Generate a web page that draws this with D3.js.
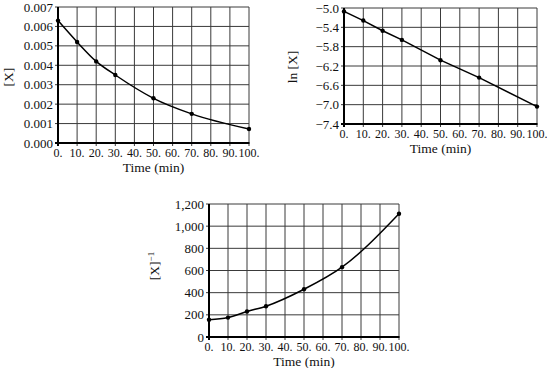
<!DOCTYPE html>
<html><head><meta charset="utf-8">
<script src="https://cdn.jsdelivr.net/npm/d3@7"></script>
<style>body{margin:0;background:#fff}svg{display:block}
text{font-family:"Liberation Serif","Times New Roman",Times,serif;fill:#111}</style>
</head><body><svg id="c" width="547" height="368"></svg>
<script>
const times = [0, 10, 20, 30, 50, 70, 100];
const conc = [0.0063, 0.0052, 0.0042, 0.0035, 0.0023, 0.0015, 0.00072];
const lnConc = [-5.07, -5.26, -5.47, -5.66, -6.08, -6.44, -7.04];
const invConc = [155, 175, 230, 278, 431, 630, 1112];
const xTicks = [0, 10, 20, 30, 40, 50, 60, 70, 80, 90, 100];
const yTicks1 = [0, 0.001, 0.002, 0.003, 0.004, 0.005, 0.006, 0.007];
const yTicks2 = [-7.4, -7.0, -6.6, -6.2, -5.8, -5.4, -5.0];
const yTicks3 = [0, 200, 400, 600, 800, 1000, 1200];

const svg = d3.select("#c");

function panel(o) {
  const x = d3.scaleLinear().domain([0, 100]).range([o.x0, o.x1]);
  const y = d3.scaleLinear().domain(o.yDomain).range([o.y1, o.y0]);
  const g = svg.append("g");
  // grid
  g.append("g").selectAll("line").data(xTicks.slice(1)).join("line")
    .attr("x1", d => x(d)).attr("x2", d => x(d))
    .attr("y1", o.y0).attr("y2", o.y1 + 3)
    .attr("stroke", "#3a3a3a").attr("stroke-width", 1);
  g.append("g").selectAll("line").data(o.yTicks.slice(1)).join("line")
    .attr("x1", o.x0 - 3).attr("x2", o.x1)
    .attr("y1", d => y(d)).attr("y2", d => y(d))
    .attr("stroke", "#3a3a3a").attr("stroke-width", 1);
  // axes
  g.append("line").attr("x1", o.x0).attr("x2", o.x0).attr("y1", o.y0).attr("y2", o.y1 + 3)
    .attr("stroke", "#000").attr("stroke-width", 2);
  g.append("line").attr("x1", o.x0 - 3).attr("x2", o.x1 + 0.5).attr("y1", o.y1).attr("y2", o.y1)
    .attr("stroke", "#000").attr("stroke-width", 2);
  // tick labels
  g.append("g").selectAll("text").data(xTicks).join("text")
    .attr("x", d => x(d)).attr("y", o.y1 + 14)
    .attr("text-anchor", "middle").attr("font-size", 12)
    .text(d => d + ".");
  g.append("g").selectAll("text").data(o.yTicks).join("text")
    .attr("x", o.x0 - 5).attr("y", d => y(d) + 4.5)
    .attr("text-anchor", "end").attr("font-size", 13)
    .text(o.fmt);
  // titles
  g.append("text").attr("x", (o.x0 + o.x1) / 2).attr("y", o.y1 + 29)
    .attr("text-anchor", "middle").attr("font-size", 13.5)
    .text("Time (min)");
  const yt = g.append("text").attr("transform", `translate(${o.ytx},${o.yty}) rotate(-90)`)
    .attr("text-anchor", "middle").attr("font-size", 13.5);
  yt.append("tspan").text(o.ytitle);
  if (o.sup) yt.append("tspan").attr("dy", -5).attr("font-size", 9).text(o.sup);
  // curve
  const pts = times.map((t, i) => [t, o.vals[i]]);
  g.append("path").datum(pts)
    .attr("d", d3.line().x(d => x(d[0])).y(d => y(d[1])).curve(o.curve))
    .attr("fill", "none").attr("stroke", "#000").attr("stroke-width", 1.5);
  g.append("g").selectAll("circle").data(pts).join("circle")
    .attr("cx", d => x(d[0])).attr("cy", d => y(d[1])).attr("r", 2.2).attr("fill", "#000");
}

panel({x0: 58, x1: 249, y0: 7, y1: 143, yDomain: [0, 0.007], yTicks: yTicks1,
  fmt: d3.format(".3f"), vals: conc, ytitle: "[X]", ytx: 13, yty: 77, curve: d3.curveMonotoneX});
panel({x0: 344, x1: 537, y0: 8, y1: 124, yDomain: [-7.4, -5.0], yTicks: yTicks2,
  fmt: d => d3.format(".1f")(d).replace("-", "\u2212"), vals: lnConc, ytitle: "ln [X]", ytx: 297, yty: 67, curve: d3.curveLinear});
panel({x0: 209, x1: 399, y0: 204, y1: 337, yDomain: [0, 1200], yTicks: yTicks3,
  fmt: d3.format(","), vals: invConc, ytitle: "[X]", sup: "\u22121", ytx: 159, yty: 266, curve: d3.curveMonotoneX});
</script></body></html>
